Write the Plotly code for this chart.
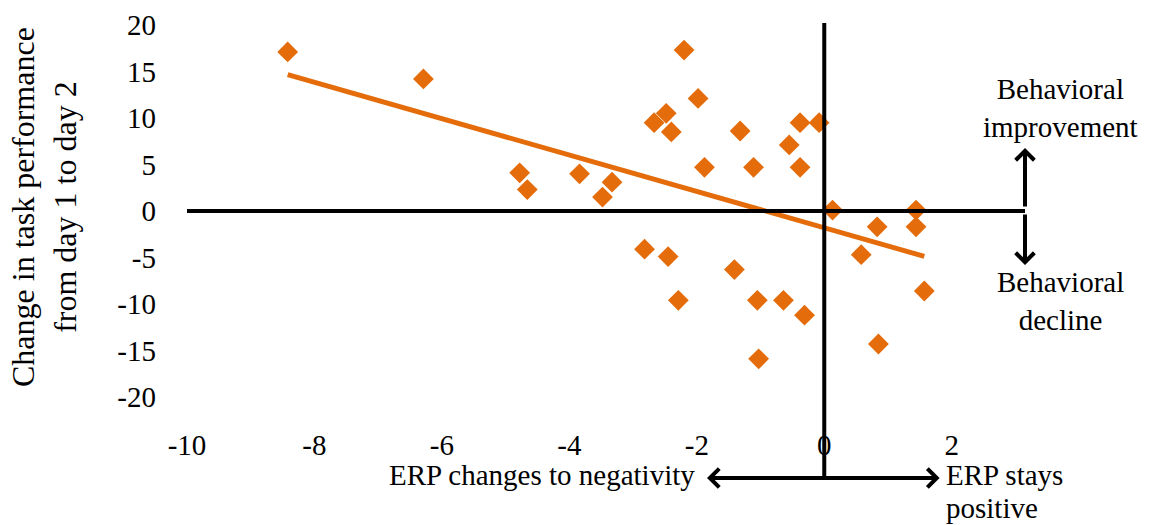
import numpy as np
import plotly.graph_objects as go

# ERP change (x) vs change in task performance (y)
erp_change = [-8.42, -6.29, -4.78, -4.66, -3.84, -3.33, -3.48, -2.20, -1.98, -2.48,
              -2.67, -2.40, -1.32, -0.38, -0.08, -0.55, -1.88, -1.11, -0.38, 0.13,
              0.83, 1.44, 1.44, 0.58, 1.57, 0.85, -2.82, -2.45, -1.41, -2.29,
              -1.05, -0.64, -0.31, -1.03]
perf_change = [17.1, 14.2, 4.1, 2.3, 4.0, 3.1, 1.5, 17.3, 12.1, 10.5,
               9.5, 8.5, 8.6, 9.5, 9.5, 7.1, 4.7, 4.7, 4.7, 0.1,
               -1.7, 0.1, -1.7, -4.7, -8.6, -14.3, -4.1, -4.9, -6.3, -9.6,
               -9.6, -9.6, -11.2, -15.9]

x_ticks = [-10, -8, -6, -4, -2, 0, 2]
y_ticks = [-20, -15, -10, -5, 0, 5, 10, 15, 20]

ORANGE = "#E46C0A"
FONT = "Liberation Serif"

# linear trendline over the data range
slope, intercept = np.polyfit(erp_change, perf_change, 1)
tx = np.array([min(erp_change), max(erp_change)])
ty = slope * tx + intercept

W, H = 1149, 525
# plot area in page pixels: x 187..1025, y 25..397
L, T = 187, 25
R, B = W - 1025, H - 397
pw, ph = W - L - R, H - T - B


def px(xp):
    return (xp - L) / pw


def py(yp):
    return (H - B - yp) / ph


fig = go.Figure()
fig.add_trace(go.Scatter(x=tx, y=ty, mode="lines",
                         line=dict(color=ORANGE, width=5), hoverinfo="skip",
                         showlegend=False))
fig.add_trace(go.Scatter(x=erp_change, y=perf_change, mode="markers",
                         marker=dict(symbol="diamond", size=16, color=ORANGE,
                                     line=dict(width=0)),
                         showlegend=False))

# axis lines through the origin
fig.add_shape(type="line", xref="x", yref="y", x0=-10, x1=3.15, y0=0, y1=0,
              line=dict(color="black", width=4))
fig.add_shape(type="line", xref="x", yref="paper", x0=0, x1=0,
              y0=py(478), y1=py(23), line=dict(color="black", width=4))
fig.add_shape(type="line", xref="x", yref="paper", x0=-1.75, x1=1.72,
              y0=py(478), y1=py(478), line=dict(color="black", width=4))

arrow = dict(showarrow=True, arrowhead=4, arrowsize=0.9, arrowwidth=4,
             arrowcolor="black", text="")
# bottom horizontal double arrow
fig.add_annotation(x=-1.84, y=py(478), xref="x", yref="paper",
                   ax=110, ay=0, **arrow)
fig.add_annotation(x=1.81, y=py(478), xref="x", yref="paper",
                   ax=-110, ay=0, **arrow)
# right vertical double arrow
fig.add_annotation(x=1.0, y=py(148), xref="paper", yref="paper",
                   ax=0, ay=60, **arrow)
fig.add_annotation(x=1.0, y=py(265), xref="paper", yref="paper",
                   ax=0, ay=-52, **arrow)

txt = dict(showarrow=False, font=dict(family=FONT, size=29, color="black"))
fig.add_annotation(x=px(1060), y=py(108), xref="paper", yref="paper",
                   text="Behavioral<br>improvement", xanchor="center",
                   yanchor="middle", align="center", **txt)
fig.add_annotation(x=px(1060), y=py(301), xref="paper", yref="paper",
                   text="Behavioral<br>decline", xanchor="center",
                   yanchor="middle", align="center", **txt)
fig.add_annotation(x=px(697), y=py(475), xref="paper", yref="paper",
                   text="ERP changes to negativity", xanchor="right",
                   yanchor="middle", **txt)
fig.add_annotation(x=px(944), y=py(475), xref="paper", yref="paper",
                   text="ERP stays", xanchor="left", yanchor="middle", **txt)
fig.add_annotation(x=px(944), y=py(508), xref="paper", yref="paper",
                   text="positive", xanchor="left", yanchor="middle", **txt)
fig.add_annotation(x=px(44), y=py(207), xref="paper", yref="paper",
                   text="Change in task performance<br>from day 1 to day 2",
                   textangle=-90, xanchor="center", yanchor="middle",
                   showarrow=False,
                   font=dict(family=FONT, size=32, color="black"))

fig.update_layout(
    width=W, height=H,
    margin=dict(l=L, r=R, t=T, b=B, pad=0),
    paper_bgcolor="white", plot_bgcolor="white",
    font=dict(family=FONT, size=29, color="black"),
    xaxis=dict(range=[-10, 3.15], tickvals=x_ticks, ticktext=[str(v) for v in x_ticks],
               showgrid=False, zeroline=False, showline=False, ticks="",
               ticklabelstandoff=28, fixedrange=True, automargin=False),
    yaxis=dict(range=[-20, 20], tickvals=y_ticks, ticktext=[str(v) for v in y_ticks],
               showgrid=False, zeroline=False, showline=False, ticks="",
               ticklabelstandoff=30, fixedrange=True, automargin=False),
    showlegend=False,
)

fig.write_html("out.html",
               config={"displayModeBar": False},
               post_script="document.body.style.margin='0px';"
                           "document.body.style.overflow='hidden';")
